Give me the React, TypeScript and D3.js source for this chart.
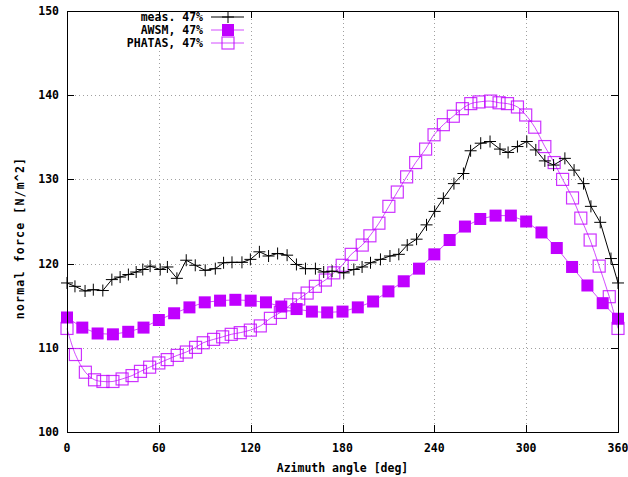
import React from "react";
import * as d3 from "d3";

const measAngle = [0, 5.2, 11.8, 17.2, 23.4, 29.3, 34.7, 40.1, 45.2, 49.5, 54.3, 60.9, 65.6, 71.8, 77.9, 83.8, 90.3, 96.9, 102.3, 107.8, 114.3, 119.8, 125.7, 131.7, 137.6, 143.8, 149.9, 155.8, 162.3, 167.7, 173.2, 180.8, 187.4, 192.8, 198.3, 204.8, 211, 216.8, 222.3, 228.4, 234.9, 240.2, 245.9, 252.8, 259, 263.7, 270.3, 276.4, 282.9, 288.2, 294.3, 300.4, 306.3, 312.2, 317.9, 325.3, 331.3, 337.5, 342.3, 348.4, 355.4, 360];
const measValue = [117.7, 117.3, 116.75, 116.9, 116.8, 118.1, 118.4, 118.7, 119.0, 119.3, 119.7, 119.3, 119.6, 118.25, 120.4, 119.8, 119.2, 119.4, 120.1, 120.15, 120.15, 120.5, 121.4, 120.9, 121.2, 121.0, 119.9, 119.4, 119.4, 119.0, 119.1, 118.9, 119.3, 119.6, 120.1, 120.5, 120.9, 121.1, 122.2, 122.9, 124.6, 126.2, 127.75, 129.5, 130.7, 133.4, 134.3, 134.5, 133.6, 133.2, 133.9, 134.5, 133.5, 132.2, 131.7, 132.5, 131.1, 129.5, 126.8, 124.9, 120.6, 117.7];

const awsmAngle = [0, 10, 20, 30, 40, 50, 60, 70, 80, 90, 100, 110, 120, 130, 140, 150, 160, 170, 180, 190, 200, 210, 220, 230, 240, 250, 260, 270, 280, 290, 300, 310, 320, 330, 340, 350, 360];
const awsmValue = [113.6, 112.4, 111.7, 111.6, 111.9, 112.4, 113.3, 114.1, 114.8, 115.4, 115.6, 115.7, 115.6, 115.4, 114.9, 114.6, 114.3, 114.2, 114.3, 114.8, 115.5, 116.7, 117.9, 119.4, 121.1, 122.8, 124.4, 125.3, 125.7, 125.7, 125.0, 123.7, 121.85, 119.6, 117.4, 115.3, 113.45];

const phatasAngle = [0, 5.5, 12, 18, 23.5, 30, 36, 42.5, 48, 54, 60, 65.5, 72, 78, 84, 89, 95.8, 101.7, 107.3, 113.2, 119.8, 126.3, 132.9, 139.4, 146, 151.4, 156.9, 162.3, 168.8, 174.3, 179.8, 185.7, 192.9, 197.9, 203.8, 210.3, 215.8, 221.9, 227.8, 234.3, 239.8, 245.9, 252.4, 258.3, 263.8, 269.2, 276.8, 282.3, 287.8, 294.3, 299.7, 305.6, 312.2, 318.3, 323.8, 330.3, 335.7, 341.8, 347.7, 354.3, 360];
const phatasValue = [112.3, 109.2, 107.1, 106.2, 106.0, 106.0, 106.3, 106.7, 107.2, 107.7, 108.2, 108.6, 109.1, 109.5, 110.05, 110.6, 111.0, 111.3, 111.6, 111.8, 112.1, 112.6, 113.5, 114.2, 115.1, 115.8, 116.5, 117.3, 118.05, 118.9, 119.8, 121.1, 122.2, 123.3, 124.8, 126.8, 128.5, 130.3, 132.0, 133.6, 135.3, 136.5, 137.5, 138.4, 139.0, 139.2, 139.3, 139.1, 139.0, 138.6, 137.65, 136.2, 133.9, 132.0, 130.0, 127.8, 125.4, 122.8, 119.7, 116.07, 112.3];

const xTicks = [0, 60, 120, 180, 240, 300, 360];
const yTicks = [100, 110, 120, 130, 140, 150];
const legendLabels = ["meas. 47%", "AWSM, 47%", "PHATAS, 47%"];

const W = 628, H = 477;
const L = 67, R = 618, T = 11, B = 432;
const PURPLE = "#c000ff";
const FONT = "'DejaVu Sans Mono', monospace";

export default function App() {
  const x = d3.scaleLinear().domain([0, 360]).range([L, R]);
  const y = d3.scaleLinear().domain([100, 150]).range([B, T]);

  const meas = measAngle.map((a, i) => [a, measValue[i]] as [number, number]);
  const awsm = awsmAngle.map((a, i) => [a, awsmValue[i]] as [number, number]);
  const phatas = phatasAngle.map((a, i) => [a, phatasValue[i]] as [number, number]);

  const lin = d3.line<[number, number]>().x(d => x(d[0])).y(d => y(d[1]));
  const smooth = d3.line<[number, number]>().x(d => x(d[0])).y(d => y(d[1])).curve(d3.curveCatmullRom);

  const tl = 7;
  const ms = 6; // half marker size

  const plus = (cx: number, cy: number, key: string) => (
    <path key={key} d={`M${cx - ms},${cy}H${cx + ms}M${cx},${cy - ms}V${cy + ms}`} stroke="#000" strokeWidth={1} fill="none" />
  );

  const lx1 = 211, lx2 = 244, lmx = 228, ltx = 203;
  const ly = [17, 30, 43];

  return (
    <svg width={W} height={H} style={{ position: "absolute", left: 0, top: 0, background: "#fff" }} fontFamily={FONT}>
      <rect x={0} y={0} width={W} height={H} fill="#fff" />
      {/* grid */}
      <g stroke="#a0a0a0" strokeWidth={1} strokeDasharray="1,3" shapeRendering="crispEdges">
        {xTicks.slice(1, -1).map(t => (
          <line key={"gx" + t} x1={Math.round(x(t)) + 0.5} x2={Math.round(x(t)) + 0.5} y1={T} y2={B} />
        ))}
        {yTicks.slice(1, -1).map(t => (
          <line key={"gy" + t} x1={L} x2={R} y1={Math.round(y(t)) + 0.5} y2={Math.round(y(t)) + 0.5} />
        ))}
      </g>
      {/* legend background */}
      <rect x={100} y={T + 1} width={147} height={37} fill="#fff" />
      {/* ticks */}
      <g stroke="#000" strokeWidth={1} shapeRendering="crispEdges">
        {xTicks.map(t => (
          <g key={"tx" + t}>
            <line x1={Math.round(x(t)) + 0.5} x2={Math.round(x(t)) + 0.5} y1={B} y2={B - tl} />
            <line x1={Math.round(x(t)) + 0.5} x2={Math.round(x(t)) + 0.5} y1={T} y2={T + tl} />
          </g>
        ))}
        {yTicks.map(t => (
          <g key={"ty" + t}>
            <line x1={L} x2={L + tl} y1={Math.round(y(t)) + 0.5} y2={Math.round(y(t)) + 0.5} />
            <line x1={R} x2={R - tl} y1={Math.round(y(t)) + 0.5} y2={Math.round(y(t)) + 0.5} />
          </g>
        ))}
      </g>
      {/* tick labels */}
      <g fontSize={11.5} fontWeight="bold" fill="#000">
        {yTicks.map(t => (
          <text key={"ly" + t} x={59} y={y(t)} textAnchor="end" dominantBaseline="central">{t}</text>
        ))}
        {xTicks.map(t => (
          <text key={"lx" + t} x={x(t)} y={452} textAnchor="middle">{t}</text>
        ))}
        <text x={(L + R) / 2} y={472} textAnchor="middle">Azimuth angle [deg]</text>
        <text transform={`translate(20,238) rotate(-90)`} textAnchor="middle" dominantBaseline="central" letterSpacing={1.2}>normal force [N/m^2]</text>
      </g>
      {/* data: AWSM */}
      <path d={lin(awsm) || ""} fill="none" stroke={PURPLE} strokeWidth={1} strokeOpacity={0.7} />
      {awsm.map((d, i) => (
        <rect key={"a" + i} x={x(d[0]) - ms} y={y(d[1]) - ms} width={ms * 2} height={ms * 2} fill={PURPLE} />
      ))}
      {/* data: PHATAS */}
      <path d={smooth(phatas) || ""} fill="none" stroke={PURPLE} strokeWidth={1} strokeOpacity={0.7} />
      {phatas.map((d, i) => (
        <rect key={"p" + i} x={x(d[0]) - ms} y={y(d[1]) - ms} width={ms * 2} height={ms * 2} fill="none" stroke={PURPLE} strokeWidth={1.2} strokeOpacity={0.8} />
      ))}
      {/* data: measured */}
      <path d={lin(meas) || ""} fill="none" stroke="#000" strokeWidth={1} />
      {meas.map((d, i) => plus(x(d[0]), y(d[1]), "m" + i))}
      {/* legend */}
      <g fontSize={11.5} fontWeight="bold" fill="#000">
        {legendLabels.map((lab, i) => (
          <text key={"lt" + i} x={ltx} y={ly[i]} textAnchor="end" dominantBaseline="central">{lab}</text>
        ))}
      </g>
      <line x1={lx1} x2={lx2} y1={ly[0]} y2={ly[0]} stroke="#000" strokeWidth={1} />
      {plus(lmx, ly[0], "legplus")}
      <line x1={lx1} x2={lx2} y1={ly[1]} y2={ly[1]} stroke={PURPLE} strokeWidth={1} strokeOpacity={0.7} />
      <rect x={lmx - ms} y={ly[1] - ms} width={ms * 2} height={ms * 2} fill={PURPLE} />
      <line x1={lx1} x2={lx2} y1={ly[2]} y2={ly[2]} stroke={PURPLE} strokeWidth={1} strokeOpacity={0.7} />
      <rect x={lmx - ms} y={ly[2] - ms} width={ms * 2} height={ms * 2} fill="none" stroke={PURPLE} strokeWidth={1.2} strokeOpacity={0.8} />
      {/* border */}
      <rect x={L + 0.5} y={T + 0.5} width={R - L} height={B - T} fill="none" stroke="#000" strokeWidth={1} shapeRendering="crispEdges" />
    </svg>
  );
}
